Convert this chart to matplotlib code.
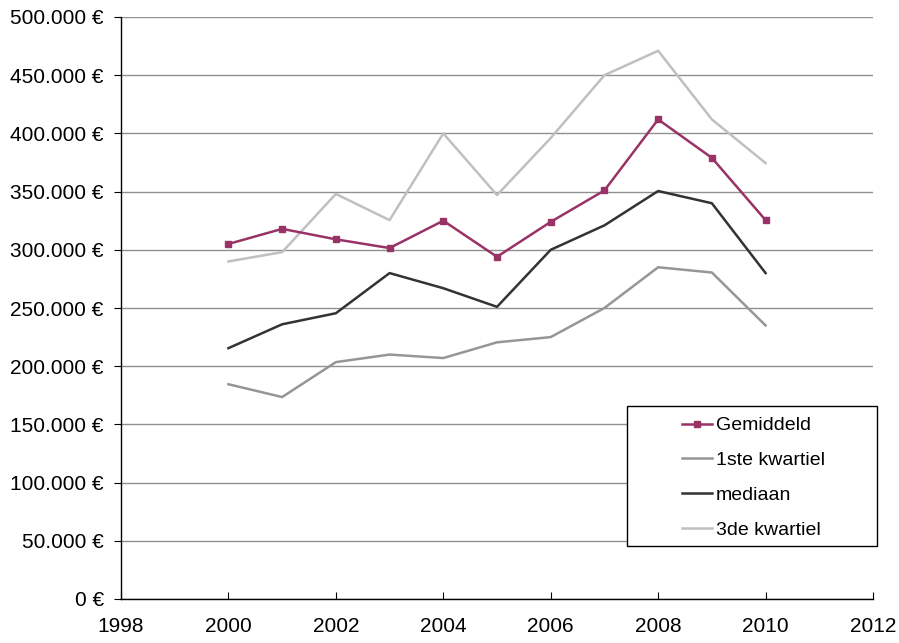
import matplotlib
matplotlib.use("Agg")
import matplotlib.pyplot as plt
from matplotlib.ticker import FuncFormatter
from matplotlib.patches import Rectangle

plt.rcParams['font.family'] = ['Liberation Sans', 'DejaVu Sans']

years = [2000, 2001, 2002, 2003, 2004, 2005, 2006, 2007, 2008, 2009, 2010]
gemiddeld = [305000, 318000, 309000, 301500, 325000, 294000, 324000, 351000, 412000, 379000, 325500]
kwartiel1 = [184500, 173500, 203500, 210000, 207000, 220500, 225000, 250000, 285000, 280500, 235000]
mediaan = [215500, 236000, 245500, 280000, 267000, 251000, 300000, 321000, 350500, 340000, 280000]
kwartiel3 = [290000, 298000, 348000, 325500, 400000, 347000, 396000, 450000, 471000, 412000, 374500]

fig = plt.figure(figsize=(8.99, 6.43), dpi=100)
ax = fig.add_axes([121/899, 44/643, 752/899, 582/643])

ax.plot(years, kwartiel3, color='#c0c0c0', lw=1.8, label='3de kwartiel', zorder=3)
ax.plot(years, kwartiel1, color='#969696', lw=1.8, label='1ste kwartiel', zorder=3)
ax.plot(years, mediaan, color='#333333', lw=1.8, label='mediaan', zorder=3)
ax.plot(years, gemiddeld, color='#993366', lw=1.8, marker='s', ms=4.5, label='Gemiddeld', zorder=4)

ax.set_xlim(1998, 2012)
ax.set_ylim(0, 500000)
ax.set_xticks(range(1998, 2013, 2))
ax.set_yticks(range(0, 500001, 50000))

def fmt(v, pos):
    if v == 0:
        return '0 €'
    return f"{int(v):,} €".replace(',', '.')
ax.yaxis.set_major_formatter(FuncFormatter(fmt))

ax.grid(axis='y', color='#909090', lw=1)
ax.set_axisbelow(True)
for s in ['top', 'right']:
    ax.spines[s].set_visible(False)
for s in ['left', 'bottom']:
    ax.spines[s].set_color('black')
    ax.spines[s].set_linewidth(1)
ax.tick_params(axis='y', direction='out', length=5, labelsize=15, pad=7.5)
ax.tick_params(axis='x', direction='in', length=5, labelsize=15, pad=13)

# legend box
box = Rectangle((0.673, 0.0911), 1.0053 - 0.673, 0.3316 - 0.0911, transform=ax.transAxes,
                facecolor='white', edgecolor='black', lw=1, zorder=5, clip_on=False)
ax.add_patch(box)

h, l = ax.get_legend_handles_labels()
order = [3, 1, 2, 0]
leg = ax.legend([h[i] for i in order], [l[i] for i in order], loc='upper left',
                bbox_to_anchor=(0.746, 0.313), frameon=False,
                fontsize=14, handlelength=1.55,
                labelspacing=0.88, borderpad=0, handletextpad=0.2, borderaxespad=0)
leg.set_zorder(6)

fig.savefig('out.png', dpi=100)
